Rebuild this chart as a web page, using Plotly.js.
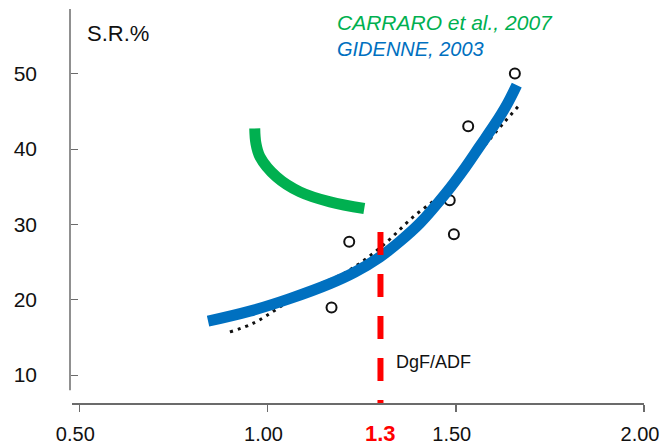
<!DOCTYPE html>
<html>
<head>
<meta charset="utf-8">
<script src="https://cdn.plot.ly/plotly-3.0.1.min.js"></script>
<style>
  html, body { margin: 0; padding: 0; background: #ffffff; }
  #chart { width: 661px; height: 448px; }
</style>
</head>
<body>
<div id="chart"></div>
<script>
// Selectivity ratio (S.R.%) against the DgF/ADF ratio

// Fitted curve, GIDENNE 2003
const gidenneX = [0.842, 0.953, 1.059, 1.166, 1.232, 1.298, 1.351, 1.405, 1.476, 1.524, 1.564, 1.604, 1.635, 1.662];
const gidenneY = [17.16, 18.49, 20.15, 22.14, 23.67, 25.66, 27.72, 30.17, 34.29, 37.48, 40.40, 43.32, 45.84, 48.50];

// Fitted curve, CARRARO et al. 2007
const carraroX = [0.966, 0.969, 0.980, 1.024, 1.086, 1.166, 1.257];
const carraroY = [42.75, 40.8, 38.98, 36.32, 34.33, 33.0, 32.12];

// Individual observations (open circles)
const obsX = [1.217, 1.170, 1.657, 1.533, 1.495, 1.484];
const obsY = [27.7, 18.98, 50.05, 43.05, 28.7, 33.2];

// Dotted reference trend
const trendX = [0.900, 0.964, 1.104, 1.210, 1.307, 1.387, 1.466, 1.502, 1.626, 1.665];
const trendY = [15.74, 16.93, 21.28, 23.70, 27.25, 31.01, 34.12, 36.11, 43.41, 45.62];

// Threshold on DgF/ADF
const thresholdX = 1.3;
const thresholdTopY = 29.0;
const thresholdLabel = '1.3';

// Axis ticks
const xTicks = [0.5, 1.0, 1.5, 2.0];
const xTickText = ['0.50', '1.00', '1.50', '2.00'];
const yTicks = [10, 20, 30, 40, 50];

const xRange = [0.4806, 2.0];
const yRange = [6.3, 58.6];
const yAxisSpan = [8.0, 58.6];

const FONT = 'Liberation Sans, Arial, sans-serif';
const AXIS_GRAY = '#6b6b6b';
const BLUE = '#0070C0';
const GREEN = '#00B050';
const RED = '#FF0000';

const traces = [
  {
    x: trendX, y: trendY, mode: 'lines', type: 'scatter',
    line: { color: '#111111', width: 3, dash: '3px,5px', shape: 'spline' },
    hoverinfo: 'skip'
  },
  {
    x: obsX, y: obsY, mode: 'markers', type: 'scatter',
    marker: { symbol: 'circle-open', size: 10, color: '#111111', line: { width: 2, color: '#111111' } },
    hoverinfo: 'skip'
  },
  {
    x: gidenneX, y: gidenneY, mode: 'lines', type: 'scatter',
    line: { color: BLUE, width: 11, shape: 'spline', smoothing: 1 },
    hoverinfo: 'skip'
  },
  {
    x: carraroX, y: carraroY, mode: 'lines', type: 'scatter',
    line: { color: GREEN, width: 11, shape: 'spline', smoothing: 1 },
    hoverinfo: 'skip'
  },
  {
    x: [thresholdX, thresholdX], y: [thresholdTopY, yRange[0]], mode: 'lines', type: 'scatter',
    line: { color: RED, width: 6, dash: '23px,19px' },
    hoverinfo: 'skip'
  }
];

const layout = {
  width: 661,
  height: 448,
  margin: { l: 70, r: 17, t: 9, b: 45 },
  paper_bgcolor: '#ffffff',
  plot_bgcolor: '#ffffff',
  showlegend: false,
  font: { family: FONT, color: '#111111', size: 20 },
  xaxis: {
    domain: [2 / 574, 1],
    range: xRange,
    tickvals: xTicks,
    ticktext: xTickText,
    ticks: 'outside',
    ticklen: 7,
    tickwidth: 1.5,
    tickcolor: AXIS_GRAY,
    showline: true,
    linecolor: AXIS_GRAY,
    linewidth: 1.5,
    showgrid: false,
    zeroline: false,
    ticklabelstandoff: 5,
    ticklabelshift: -4,
    ticklabeloverflow: 'allow',
    tickfont: { family: FONT, size: 20, color: '#111111' }
  },
  yaxis: {
    anchor: 'free',
    position: 0,
    range: yRange,
    tickvals: yTicks,
    ticks: 'inside',
    ticklen: 7,
    tickwidth: 1.2,
    tickcolor: AXIS_GRAY,
    showline: false,
    showgrid: false,
    zeroline: false,
    ticklabelstandoff: 33,
    tickfont: { family: FONT, size: 21, color: '#111111' }
  },
  shapes: [
    {
      type: 'line', xref: 'paper', yref: 'y',
      x0: 0, x1: 0, y0: yAxisSpan[0], y1: yAxisSpan[1],
      line: { color: AXIS_GRAY, width: 1.5 }
    }
  ],
  annotations: [
    {
      text: 'S.R.%', xref: 'x', yref: 'y', x: 0.603, y: 55.4,
      showarrow: false, xanchor: 'center', yanchor: 'middle',
      font: { family: FONT, size: 22, color: '#111111' }
    },
    {
      text: 'DgF/ADF', xref: 'x', yref: 'y', x: 1.442, y: 11.7,
      showarrow: false, xanchor: 'center', yanchor: 'middle',
      font: { family: FONT, size: 18, color: '#111111' }
    },
    {
      text: '<i>CARRARO et al., 2007</i>', xref: 'x', yref: 'y', x: 1.179, y: 56.87,
      showarrow: false, xanchor: 'left', yanchor: 'middle',
      font: { family: FONT, size: 21, color: GREEN }
    },
    {
      text: '<i>GIDENNE, 2003</i>', xref: 'x', yref: 'y', x: 1.179, y: 53.28,
      showarrow: false, xanchor: 'left', yanchor: 'middle',
      font: { family: FONT, size: 20, color: BLUE }
    },
    {
      text: '<b>' + thresholdLabel + '</b>', xref: 'x', yref: 'paper', x: thresholdX, y: -0.078,
      showarrow: false, xanchor: 'center', yanchor: 'middle',
      font: { family: FONT, size: 22, color: RED }
    }
  ]
};

Plotly.newPlot('chart', traces, layout, { displayModeBar: false, staticPlot: true });
</script>
</body>
</html>
